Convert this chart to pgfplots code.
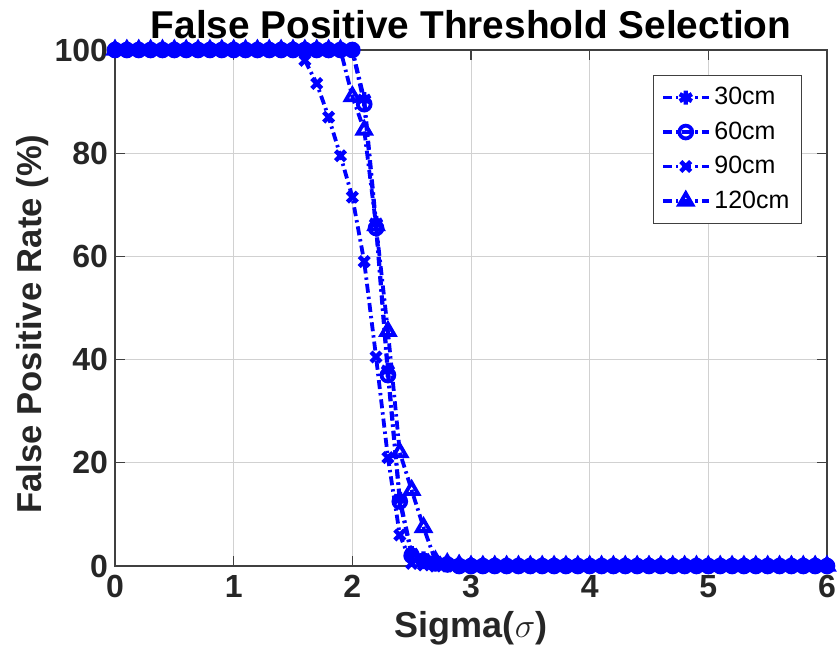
\documentclass[border=0pt]{standalone}
\usepackage{pgfplots}
\pgfplotsset{compat=1.18}
\usepackage{fontspec}
\setmainfont{Liberation Sans}
\usetikzlibrary{calc}
\begin{document}
\begin{tikzpicture}
\begin{axis}[
  name=ax,
  scale only axis,
  width=356pt, height=258pt,
  xmin=0, xmax=6, ymin=0, ymax=100,
  xtick={0,1,2,3,4,5,6},
  ytick={0,20,40,60,80,100},
  grid=major,
  major grid style={line width=0.5pt, color=black!18},
  axis line style={line width=0.6pt, color=black!75},
  tick style={line width=0.6pt, color=black!75},
  tick align=inside,
  major tick length=5pt,
  clip=false,
  /pgf/number format/assume math mode=true,
  ticklabel style={font=\fontsize{16}{16}\selectfont\bfseries, color=black!85},
  xticklabel style={yshift=-1pt},
  title={False Positive Threshold Selection},
  title style={font=\fontsize{19.4}{20}\selectfont\bfseries, yshift=-4pt},
  xlabel={Sigma($\sigma$)},
  xlabel style={font=\fontsize{18}{18}\selectfont\bfseries, color=black!85, yshift=0pt},
  ylabel={False Positive Rate (\%)},
  ylabel style={font=\fontsize{17.3}{18}\selectfont\bfseries, color=black!85, yshift=-4pt, xshift=-8pt},
  legend style={at={(0.965,0.952)}, anchor=north east, font=\fontsize{12.5}{14}\selectfont,
    draw=black!75, line width=0.6pt, row sep=3pt, inner sep=4pt},
  legend cell align=left,
  legend image code/.code={\draw[mark repeat=2,mark phase=2] plot coordinates {(0cm,0cm)(0.4cm,0cm)(0.8cm,0cm)};},
]
\pgfplotsset{every axis plot/.append style={color=blue, line width=1.9pt,
    dash pattern=on 4.5pt off 2pt on 1.2pt off 2pt, mark size=3.2pt}}
\addplot[mark=asterisk, mark options={solid, line width=2.2pt, mark size=3.5pt}] coordinates {
(0,100)(0.1,100)(0.2,100)(0.3,100)(0.4,100)(0.5,100)(0.6,100)(0.7,100)(0.8,100)(0.9,100)(1.0,100)(1.1,100)(1.2,100)(1.3,100)(1.4,100)(1.5,100)
(1.6,100)(1.7,100)(1.8,100)(1.9,100)(2.0,100)(2.1,90.5)(2.2,66.5)(2.3,38)(2.4,13)(2.5,2.5)(2.6,1.5)(2.7,1)(2.8,0.5)(2.9,0.3)
(3.0,0)(3.1,0)(3.2,0)(3.3,0)(3.4,0)(3.5,0)(3.6,0)(3.7,0)(3.8,0)(3.9,0)(4.0,0)(4.1,0)(4.2,0)(4.3,0)(4.4,0)(4.5,0)(4.6,0)(4.7,0)(4.8,0)(4.9,0)(5.0,0)(5.1,0)(5.2,0)(5.3,0)(5.4,0)(5.5,0)(5.6,0)(5.7,0)(5.8,0)(5.9,0)(6.0,0)};
\addlegendentry{30cm}
\addplot[mark=o, mark options={solid, line width=1.9pt, fill=white}] coordinates {
(0,100)(0.1,100)(0.2,100)(0.3,100)(0.4,100)(0.5,100)(0.6,100)(0.7,100)(0.8,100)(0.9,100)(1.0,100)(1.1,100)(1.2,100)(1.3,100)(1.4,100)(1.5,100)
(1.6,100)(1.7,100)(1.8,100)(1.9,100)(2.0,100)(2.1,89.5)(2.2,65.5)(2.3,37)(2.4,12.5)(2.5,2)(2.6,1)(2.7,0.5)(2.8,0.3)(2.9,0)
(3.0,0)(3.1,0)(3.2,0)(3.3,0)(3.4,0)(3.5,0)(3.6,0)(3.7,0)(3.8,0)(3.9,0)(4.0,0)(4.1,0)(4.2,0)(4.3,0)(4.4,0)(4.5,0)(4.6,0)(4.7,0)(4.8,0)(4.9,0)(5.0,0)(5.1,0)(5.2,0)(5.3,0)(5.4,0)(5.5,0)(5.6,0)(5.7,0)(5.8,0)(5.9,0)(6.0,0)};
\addlegendentry{60cm}
\addplot[mark=x, mark options={solid, line width=2.2pt, mark size=3.5pt}] coordinates {
(0,100)(0.1,100)(0.2,100)(0.3,100)(0.4,100)(0.5,100)(0.6,100)(0.7,100)(0.8,100)(0.9,100)(1.0,100)(1.1,100)(1.2,100)(1.3,100)(1.4,100)(1.5,100)
(1.6,98)(1.7,93.5)(1.8,87)(1.9,79.5)(2.0,71.5)(2.1,59)(2.2,40.5)(2.3,21)(2.4,6)(2.5,0.5)(2.6,0.2)(2.7,0)(2.8,0)(2.9,0)
(3.0,0)(3.1,0)(3.2,0)(3.3,0)(3.4,0)(3.5,0)(3.6,0)(3.7,0)(3.8,0)(3.9,0)(4.0,0)(4.1,0)(4.2,0)(4.3,0)(4.4,0)(4.5,0)(4.6,0)(4.7,0)(4.8,0)(4.9,0)(5.0,0)(5.1,0)(5.2,0)(5.3,0)(5.4,0)(5.5,0)(5.6,0)(5.7,0)(5.8,0)(5.9,0)(6.0,0)};
\addlegendentry{90cm}
\addplot[mark=triangle, mark options={solid, line width=1.9pt, fill=white, mark size=3.8pt}] coordinates {
(0,100)(0.1,100)(0.2,100)(0.3,100)(0.4,100)(0.5,100)(0.6,100)(0.7,100)(0.8,100)(0.9,100)(1.0,100)(1.1,100)(1.2,100)(1.3,100)(1.4,100)(1.5,100)
(1.6,100)(1.7,100)(1.8,100)(1.9,100)(2.0,91)(2.1,84.5)(2.2,66)(2.3,45.5)(2.4,22)(2.5,14.7)(2.6,7.5)(2.7,1)(2.8,0.5)(2.9,0.2)
(3.0,0)(3.1,0)(3.2,0)(3.3,0)(3.4,0)(3.5,0)(3.6,0)(3.7,0)(3.8,0)(3.9,0)(4.0,0)(4.1,0)(4.2,0)(4.3,0)(4.4,0)(4.5,0)(4.6,0)(4.7,0)(4.8,0)(4.9,0)(5.0,0)(5.1,0)(5.2,0)(5.3,0)(5.4,0)(5.5,0)(5.6,0)(5.7,0)(5.8,0)(5.9,0)(6.0,0)};
\addlegendentry{120cm}
\end{axis}
\pgfresetboundingbox
\path ($(ax.south west)+(-57.5pt,-43.5pt)$) rectangle ($(ax.north east)+(5pt,25pt)$);
\end{tikzpicture}
\end{document}
